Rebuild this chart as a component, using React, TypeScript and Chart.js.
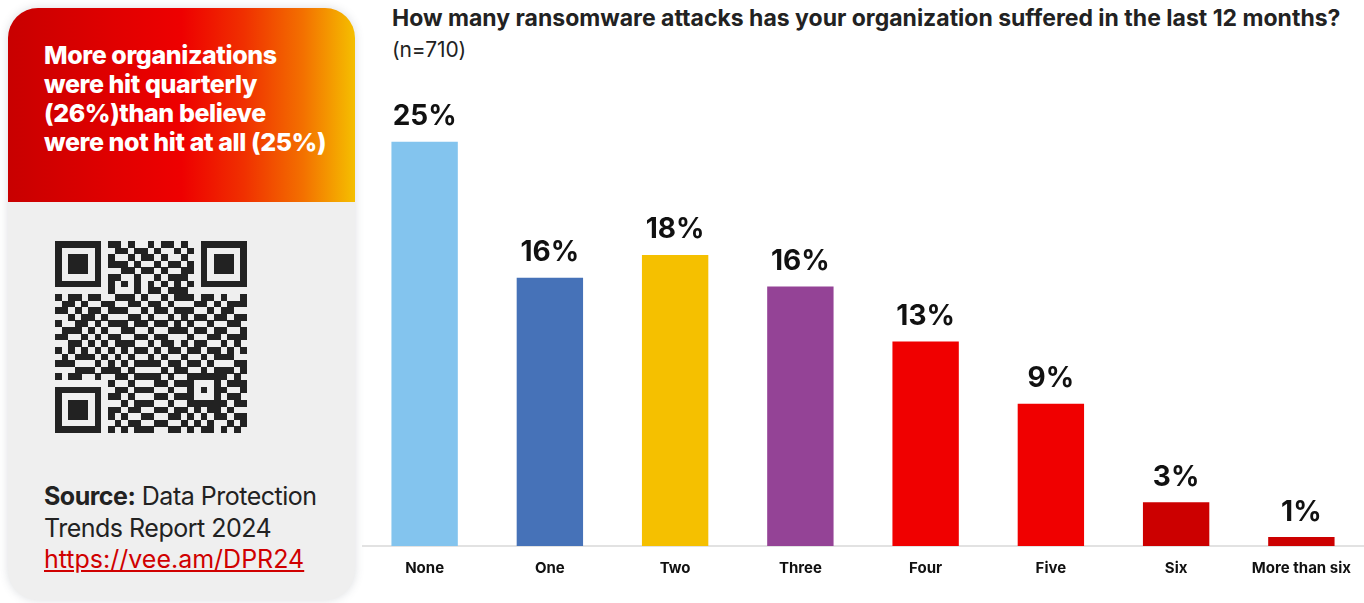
import React, { useEffect, useRef } from "react";
import { Chart, registerables } from "chart.js";

Chart.register(...registerables);

const categories = ["None", "One", "Two", "Three", "Four", "Five", "Six", "More than six"];
const values = [25, 16.6, 18, 16.05, 12.65, 8.8, 2.7, 0.55];
const valueLabels = ["25%", "16%", "18%", "16%", "13%", "9%", "3%", "1%"];
const barColors = ["#83c4ee", "#4672b8", "#f5c000", "#944396", "#f00000", "#f00000", "#cc0000", "#cc0000"];

const titleText = "How many ransomware attacks has your organization suffered in the last 12 months?";
const subtitleText = "(n=710)";
const headlineLines = ["More organizations", "were hit quarterly", "(26%)than believe", "were not hit at all (25%)"];

const qrRows = [
  "01101001110100101101001011010",
  "10010110011011010010110100110",
  "11001011100101101001011011001",
  "00110100111010010110100100111",
  "10101101001101101001101011010",
  "01011010110010010111010100101",
  "11100101011101101000101101011",
  "00011011100010110111010010110",
  "10110100011101001011101101001",
  "01101011100110110100011010111",
  "11010100111001011011100101100",
  "00101101000110100101011011011",
  "10011010111011011010100100110",
  "01110101001100100111011011001",
  "11001010110011011000100110111",
  "00110111011100101101011001010",
  "10101000101011010110110110101",
  "01011111010100101001001011100",
  "11100000101011110110110100011",
  "00011101110100001011001011101",
  "10110010011011110100110101010",
  "01001101100100011011011010111",
  "11010110011011100100100101001",
  "00101001110100011011011110110",
  "10110110001011100100101001011",
  "01001011110110011011010110100",
  "11100100101001100110101011011",
  "00011011010110011001010100101",
  "10101100101011100110101101010",
];

function buildQr(): number[][] {
  const n = 29;
  const g = qrRows.map((r) => r.padEnd(n, "0").slice(0, n).split("").map((c) => (c === "1" ? 1 : 0)));
  const finder = (r0: number, c0: number) => {
    for (let r = -1; r <= 7; r++)
      for (let c = -1; c <= 7; c++) {
        const rr = r0 + r, cc = c0 + c;
        if (rr < 0 || cc < 0 || rr >= n || cc >= n) continue;
        let v = 0;
        if (r >= 0 && r <= 6 && c >= 0 && c <= 6) {
          if (r === 0 || r === 6 || c === 0 || c === 6) v = 1;
          else if (r >= 2 && r <= 4 && c >= 2 && c <= 4) v = 1;
        }
        g[rr][cc] = v;
      }
  };
  finder(0, 0);
  finder(0, n - 7);
  finder(n - 7, 0);
  for (let i = 8; i < n - 8; i++) {
    g[6][i] = i % 2 === 0 ? 1 : 0;
    g[i][6] = i % 2 === 0 ? 1 : 0;
  }
  for (let r = -2; r <= 2; r++)
    for (let c = -2; c <= 2; c++) {
      const v = Math.max(Math.abs(r), Math.abs(c)) !== 1 ? 1 : 0;
      g[22 + r][22 + c] = v;
    }
  return g;
}

const QrCode: React.FC = () => {
  const grid = buildQr();
  const n = grid.length;
  const rects: React.ReactNode[] = [];
  grid.forEach((row, r) =>
    row.forEach((v, c) => {
      if (v) rects.push(<rect key={r + "-" + c} x={c} y={r} width={1.02} height={1.02} fill="#222" />);
    })
  );
  return (
    <svg width={192} height={192} viewBox={`0 0 ${n} ${n}`} shapeRendering="crispEdges" style={{ position: "absolute", left: 47, top: 233 }}>
      {rects}
    </svg>
  );
};

const FONT = "Inter, 'Liberation Sans', Arial, sans-serif";

const App: React.FC = () => {
  const canvasRef = useRef<HTMLCanvasElement | null>(null);

  useEffect(() => {
    document.body.style.margin = "0";
    const canvas = canvasRef.current;
    if (!canvas) return;
    const labelPlugin = {
      id: "barLabels",
      afterDatasetsDraw(chart: any) {
        const ctx = chart.ctx;
        const meta = chart.getDatasetMeta(0);
        ctx.save();
        ctx.font = "bold 28px " + FONT;
        ctx.fillStyle = "#111";
        ctx.textAlign = "center";
        ctx.textBaseline = "middle";
        meta.data.forEach((bar: any, i: number) => {
          ctx.fillText(valueLabels[i], bar.x, bar.y - 25);
        });
        ctx.restore();
      },
    };
    const chart = new Chart(canvas, {
      type: "bar",
      data: {
        labels: categories,
        datasets: [
          {
            data: values,
            backgroundColor: barColors,
            borderWidth: 0,
            barPercentage: 0.53,
            categoryPercentage: 1,
          },
        ],
      },
      options: {
        animation: false,
        responsive: false,
        maintainAspectRatio: false,
        layout: { padding: { top: 61, bottom: 13, left: 0, right: 0 } },
        plugins: { legend: { display: false }, tooltip: { enabled: false }, title: { display: false } },
        scales: {
          x: {
            grid: { display: false, drawTicks: false },
            border: { display: true, color: "#e2e2e2", width: 2 },
            ticks: {
              padding: 13,
              color: "#111",
              font: { family: FONT, size: 15, weight: "bold" },
            },
          },
          y: {
            display: false,
            min: 0,
            max: 30,
          },
        },
      },
      plugins: [labelPlugin],
    });
    return () => chart.destroy();
  }, []);

  return (
    <div
      style={{
        position: "absolute",
        left: 0,
        top: 0,
        width: 1364,
        height: 603,
        overflow: "hidden",
        background: "#ffffff",
        fontFamily: FONT,
      }}
    >
      <div
        style={{
          position: "absolute",
          left: 8,
          top: 8,
          width: 347,
          height: 592,
          borderRadius: 30,
          background: "#efefef",
          overflow: "hidden",
          boxShadow: "0 0 10px rgba(60,70,90,0.18)",
        }}
      >
        <div
          style={{
            position: "absolute",
            left: 0,
            top: 0,
            width: 347,
            height: 194,
            background:
              "linear-gradient(90deg, #c80000 0%, #e00000 30%, #ee0000 50%, #f03000 68%, #f37000 85%, #f5bf00 100%)",
          }}
        >
          <div
            style={{
              position: "absolute",
              left: 36,
              top: 33,
              color: "#ffffff",
              fontWeight: 800,
              fontSize: 25,
              lineHeight: "29px",
              letterSpacing: -0.4,
              whiteSpace: "nowrap",
            }}
          >
            {headlineLines.map((l, i) => (
              <div key={i}>{l}</div>
            ))}
          </div>
        </div>
        <QrCode />
        <div
          style={{
            position: "absolute",
            left: 36,
            top: 473,
            fontSize: 25,
            lineHeight: "31.5px",
            letterSpacing: -0.5,
            color: "#222",
            whiteSpace: "nowrap",
          }}
        >
          <div>
            <span style={{ fontWeight: 700 }}>Source:</span> Data Protection
          </div>
          <div>Trends Report 2024</div>
          <div>
            <a href="https://vee.am/DPR24" style={{ color: "#d00000", textDecoration: "underline", letterSpacing: 0 }}>
              https://vee.am/DPR24
            </a>
          </div>
        </div>
      </div>
      <div
        style={{
          position: "absolute",
          left: 392,
          top: 4,
          fontSize: 23,
          fontWeight: 700,
          lineHeight: "28px",
          color: "#222",
          whiteSpace: "nowrap",
          letterSpacing: 0,
        }}
      >
        {titleText}
      </div>
      <div
        style={{
          position: "absolute",
          left: 392,
          top: 37,
          fontSize: 21,
          lineHeight: "26px",
          color: "#222",
          whiteSpace: "nowrap",
          letterSpacing: -0.2,
        }}
      >
        {subtitleText}
      </div>
      <canvas
        ref={canvasRef}
        width={1002}
        height={603}
        style={{ position: "absolute", left: 362, top: 0, width: 1002, height: 603 }}
      />
    </div>
  );
};

export default App;
